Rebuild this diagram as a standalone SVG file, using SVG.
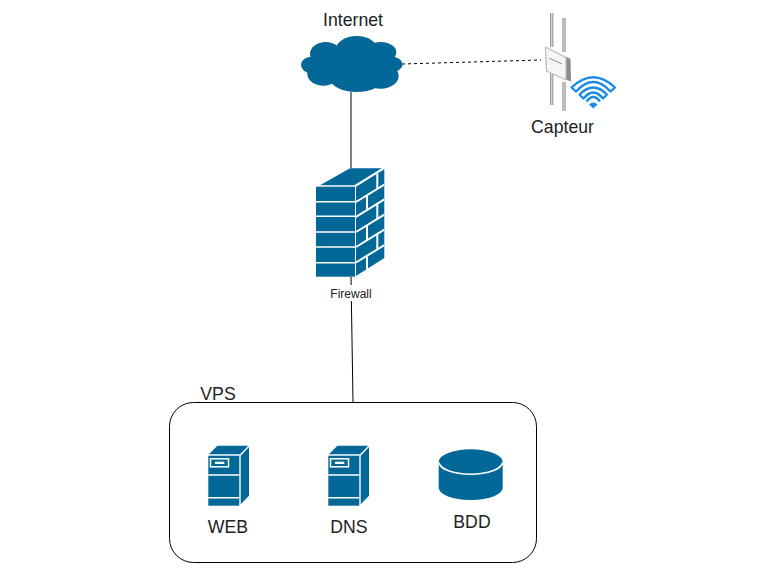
<svg xmlns="http://www.w3.org/2000/svg" xmlns:xlink="http://www.w3.org/1999/xlink" width="760" height="571" viewBox="0 0 760 571">
<style>
text{font-family:"Liberation Sans",Arial,sans-serif;font-size:17.7px;fill:#222;text-anchor:middle}
.b{fill:#036897}
.m{stroke:#fff;fill:none;stroke-width:1.6}
.s{stroke:#fff;fill:none;stroke-width:2}
.c{stroke:#000;fill:none;stroke-width:1}
.w{stroke:#1a8ae8;fill:none;stroke-width:2.300;stroke-linejoin:round}
.p{stroke:#9a9a9a;fill:none;stroke-width:3.4}
.q{stroke:#d8d8d8;fill:none;stroke-width:1.2}
</style>
<defs>
<g id="server">
<path class="b" d="M209 454.3H240L248.3 445.7H217.3Z"/>
<path class="b" d="M240.7 455.7L249 447V495.7L240.7 504.3Z"/>
<rect class="b" x="208.3" y="455.7" width="31" height="50"/>
<path class="m" d="M208.3 475H239.3M208.3 497.7H239.3"/>
<rect x="210.5" y="458.8" width="18" height="8" fill="none" stroke="#fff" stroke-width="1.5"/>
<rect x="215" y="461.7" width="9.3" height="2.3" fill="#fff"/>
</g>
</defs>
<g id="connectors">
<path class="c" d="M351 92V168"/>
<path class="c" d="M351 277L353 402"/>
<path class="c" d="M402 64L541 60" stroke-dasharray="3 3"/>
</g>
<g id="internet">
<g class="b" transform="translate(290 0) scale(.3333)">
<ellipse cx="200" cy="148" rx="62" ry="40"/>
<ellipse cx="107" cy="162" rx="47" ry="36"/>
<ellipse cx="272" cy="157" rx="47" ry="31"/>
<ellipse cx="66" cy="195" rx="33" ry="25"/>
<ellipse cx="305" cy="193" rx="33" ry="23"/>
<ellipse cx="100" cy="222" rx="48" ry="35"/>
<ellipse cx="200" cy="235" rx="80" ry="41"/>
<ellipse cx="272" cy="228" rx="54" ry="38"/>
<rect x="90" y="150" width="210" height="80"/>
</g>
<text x="353" y="26">Internet</text>
</g>
<g id="capteur">
<path class="p" d="M551.7 13V47M551.7 74V105M564 18V52M564 82V111"/>
<path class="q" d="M551.7 13V47M551.7 74V105M564 18V52M564 82V111"/>
<path d="M566 56.500L570.500 59L571 81.500L566 79.500Z" fill="#8a8a8a"/>
<path d="M545.500 47L566 57.500V80L546.500 71Z" fill="#f6f6f6" stroke="#bdbdbd" stroke-width="1.300" stroke-linejoin="round"/>
<path d="M549 58L562 64" stroke="#808080" stroke-width=".9" fill="none"/>
<path class="w" d="M571.500 87.500Q593.300 67 615 87.500L610.500 91.500Q593.300 72.500 576 91.500Z"/>
<path class="w" d="M579.500 94.500Q593.300 80.500 607 94.500L603 98.500Q593.300 86.500 583.500 98.500Z"/>
<path class="w" d="M586.500 101.500Q593.300 92.500 600 101.500"/>
<path d="M593.300 108.500L589 104.500Q593.300 100.500 597.500 104.500Z" fill="#1a8ae8"/>
<text x="562.500" y="133">Capteur</text>
</g>
<g id="firewall">
<path class="b" d="M320 185.300H354.300L381.700 168.300H350Z"/>
<rect class="b" x="316" y="186.700" width="39" height="90"/>
<path class="b" d="M356 186.700L384.300 169.300V258L356 276Z"/>
<path class="m" d="M316 201.700H355M316 216.300H355M316 232H355M316 247H355M316 262.700H355"/>
<path class="s" d="M356 202L384.300 184.600M356 216.800L384.300 199.400M356 232L384.300 214.600M356 247L384.300 229.600M356 262.500L384.300 245.100"/>
<path class="s" d="M377.300 173.600V188.900M367 195.200V210M377.300 203.700V218.900M367 225.200V240.200M377.300 233.900V249.400M367 255.700V269.200"/>
<rect x="328" y="285" width="46" height="16" fill="#fff"/>
<text x="351" y="298" style="font-size:12px">Firewall</text>
</g>
<g id="vps">
<rect x="169.500" y="402.500" width="367" height="160" rx="24" fill="#fff" stroke="#000"/>
<text x="218" y="400">VPS</text>
</g>
<g id="web">
<use xlink:href="#server" href="#server"/>
<text x="228" y="533">WEB</text>
</g>
<g id="dns">
<use xlink:href="#server" href="#server" x="120"/>
<text x="349" y="533">DNS</text>
</g>
<g id="bdd">
<path class="b" d="M438.700 462V487.500C438.700 494.500 453 500 470.700 500S502.700 494.500 502.700 487.500V462Z"/>
<ellipse class="b" cx="470.700" cy="461.700" rx="32" ry="12.400"/>
<path class="m" d="M438.700 462.500C440 469 453 474.200 470.700 474.200S501.500 469 502.700 462.500"/>
<text x="472" y="528">BDD</text>
</g>
</svg>
